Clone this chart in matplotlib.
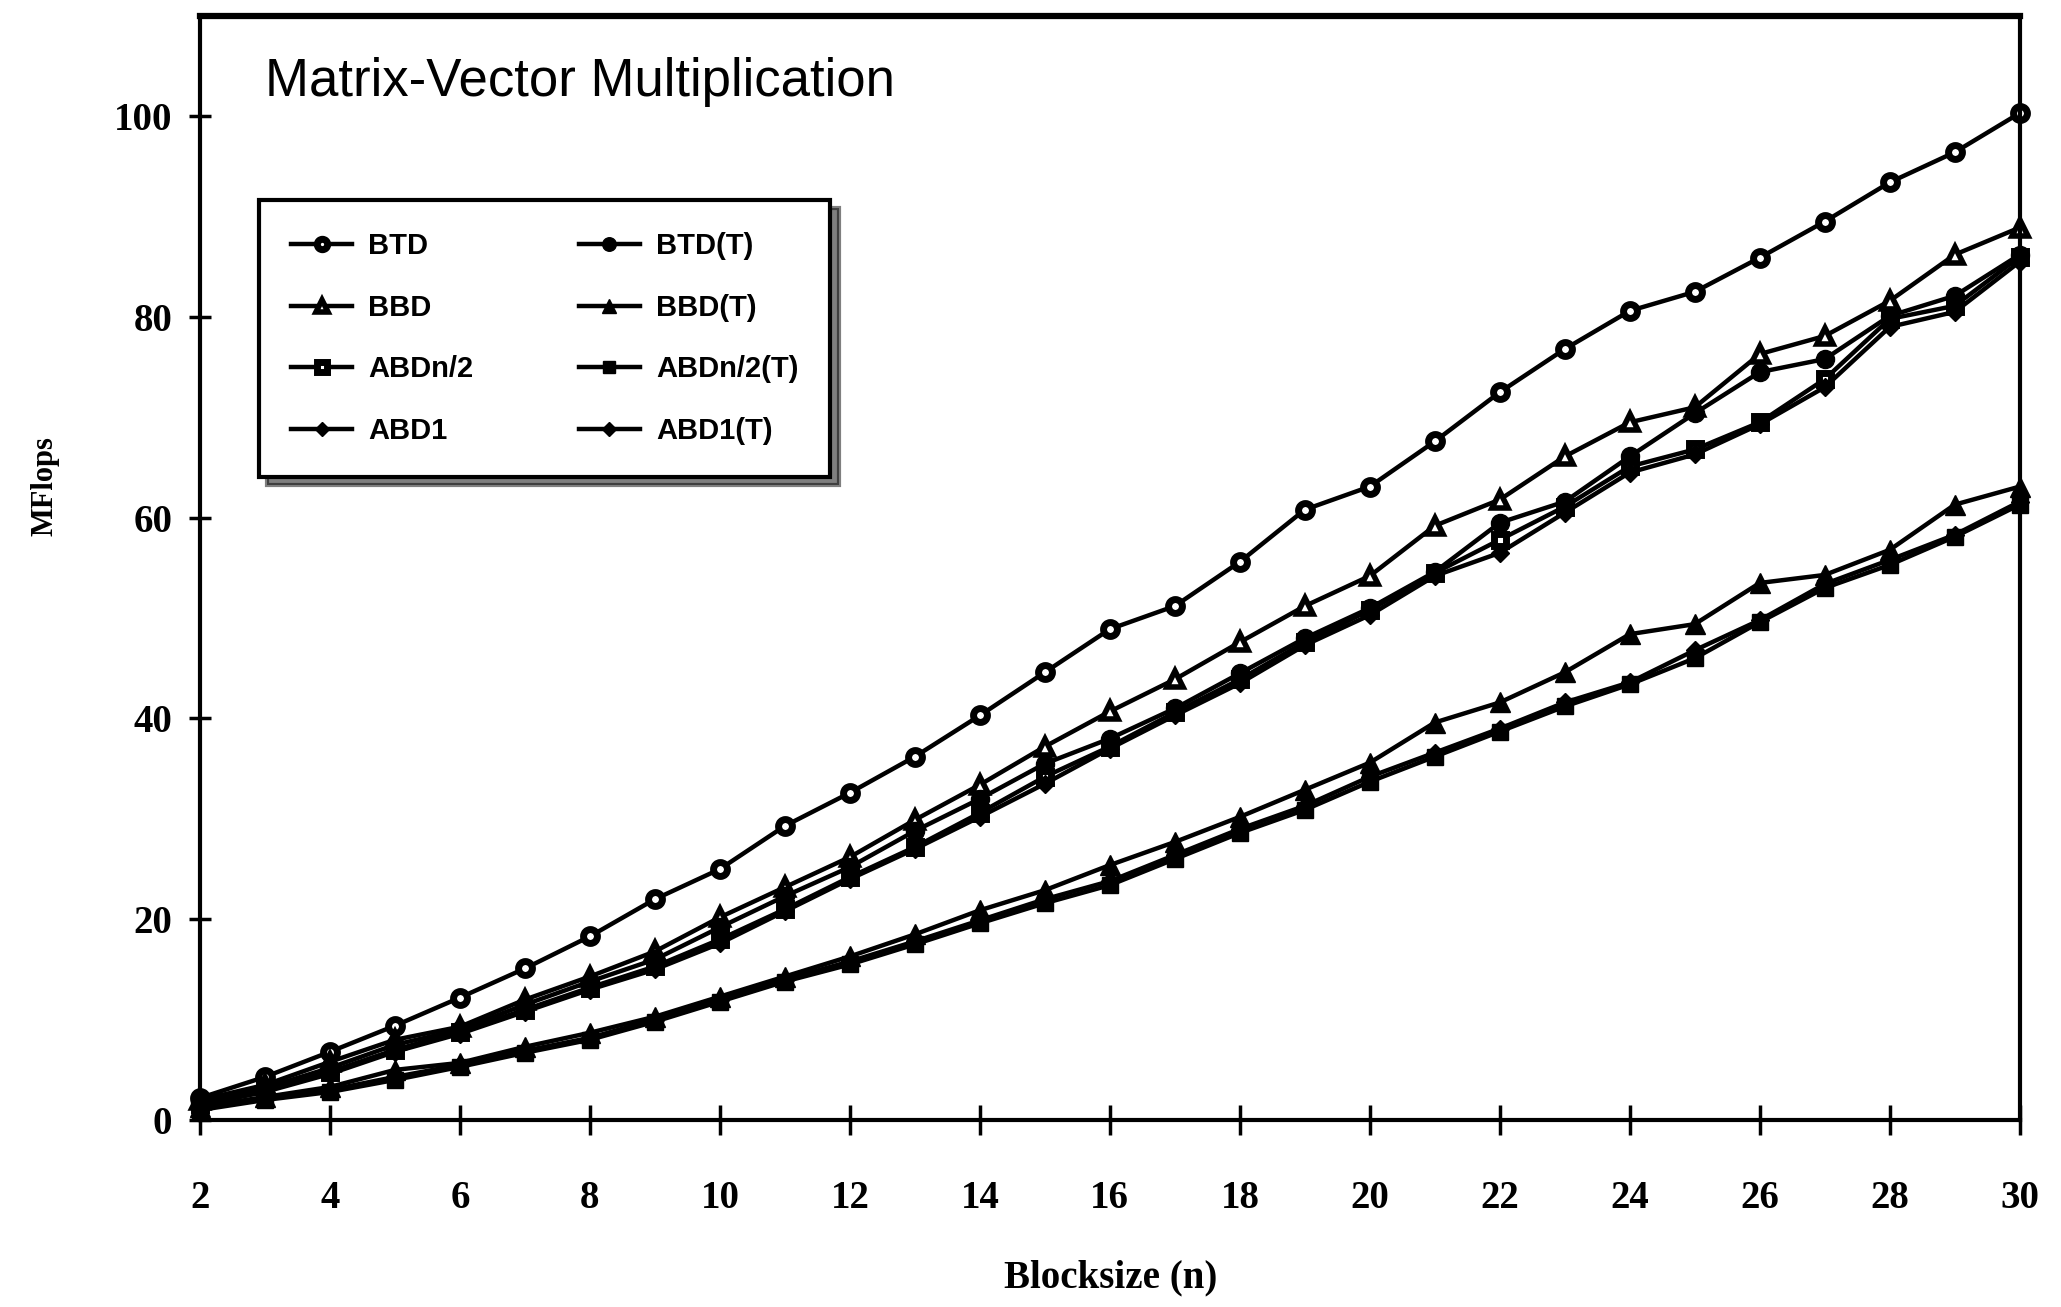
import matplotlib
matplotlib.use("Agg")
import matplotlib.pyplot as plt

blocksize = list(range(2, 31))

btd = [2.2, 4.3, 6.8, 9.4, 12.2, 15.1, 18.3, 22.0, 25.0, 29.3, 32.6, 36.2, 40.3, 44.6, 48.9,
       51.2, 55.6, 60.8, 63.1, 67.6, 72.5, 76.8, 80.6, 82.5, 85.9, 89.5, 93.4, 96.4, 100.3]
btd_t = [1.8, 3.2, 5.2, 7.5, 9.0, 11.5, 13.8, 16.0, 19.2, 22.3, 25.2, 28.8, 32.0, 35.5, 38.0,
         41.0, 44.5, 48.0, 51.0, 54.6, 59.5, 61.6, 66.1, 70.4, 74.5, 75.8, 80.1, 82.1, 86.2]
bbd = [2.0, 3.5, 5.8, 8.0, 9.3, 12.0, 14.3, 16.8, 20.2, 23.2, 26.2, 29.9, 33.4, 37.2, 40.7,
       43.9, 47.6, 51.2, 54.2, 59.2, 61.8, 66.1, 69.5, 71.0, 76.3, 78.1, 81.6, 86.2, 88.9]
bbd_t = [1.3, 2.3, 3.3, 5.0, 5.7, 7.3, 8.7, 10.3, 12.3, 14.3, 16.3, 18.5, 20.9, 22.9, 25.4,
         27.7, 30.2, 32.9, 35.6, 39.6, 41.6, 44.6, 48.4, 49.4, 53.5, 54.3, 56.8, 61.3, 63.1]
abdn2 = [1.6, 3.0, 4.8, 7.0, 8.8, 11.0, 13.2, 15.3, 18.0, 21.0, 24.2, 27.2, 30.6, 34.2, 37.2,
         40.6, 43.9, 47.6, 50.8, 54.5, 57.8, 61.1, 65.1, 66.8, 69.5, 73.8, 79.8, 81.1, 86.0]
abdn2_t = [1.0, 2.0, 2.8, 4.0, 5.3, 6.7, 8.0, 9.8, 11.8, 13.8, 15.5, 17.5, 19.6, 21.6, 23.4,
           26.0, 28.6, 30.9, 33.7, 36.2, 38.7, 41.2, 43.4, 46.0, 49.6, 53.0, 55.3, 58.1, 61.3]
abd1 = [1.5, 2.8, 4.6, 6.8, 8.6, 10.8, 13.0, 15.0, 17.6, 20.8, 24.0, 27.0, 30.2, 33.5, 37.0,
        40.3, 43.5, 47.3, 50.3, 54.2, 56.5, 60.5, 64.5, 66.3, 69.3, 73.0, 79.0, 80.5, 85.5]
abd1_t = [1.1, 2.1, 3.0, 4.3, 5.5, 6.9, 8.2, 10.0, 12.0, 14.0, 15.8, 17.8, 19.9, 22.0, 23.8,
          26.4, 29.0, 31.3, 34.2, 36.6, 39.0, 41.6, 43.6, 46.8, 49.8, 53.4, 55.8, 58.3, 61.6]

xticks = list(range(2, 31, 2))
yticks = [0, 20, 40, 60, 80, 100]

series = [
    ("BTD", btd, dict(marker="o", markersize=10, markerfacecolor="white", markeredgewidth=5)),
    ("BBD", bbd, dict(marker="^", markersize=11, markerfacecolor="white", markeredgewidth=4)),
    ("ABDn/2", abdn2, dict(marker="s", markersize=9, markerfacecolor="white", markeredgewidth=5)),
    ("ABD1", abd1, dict(marker="D", markersize=9, markerfacecolor="black")),
    ("BTD(T)", btd_t, dict(marker="o", markersize=13, markerfacecolor="black")),
    ("BBD(T)", bbd_t, dict(marker="^", markersize=14, markerfacecolor="black")),
    ("ABDn/2(T)", abdn2_t, dict(marker="s", markersize=12, markerfacecolor="black")),
    ("ABD1(T)", abd1_t, dict(marker="D", markersize=9, markerfacecolor="black")),
]

fig = plt.figure(figsize=(20.61, 13.07), dpi=100)
ax = fig.add_axes([0.097, 0.143, 0.883, 0.845])

handles = []
for name, vals, style in series:
    h, = ax.plot(blocksize, vals, color="black", linewidth=3.2, markeredgecolor="black",
                 clip_on=False, label=name, **style)
    handles.append(h)

ax.set_xlim(2, 30)
ax.set_ylim(0, 110)
ax.set_xticks(xticks)
ax.set_yticks(yticks)
ax.set_xticklabels([str(t) for t in xticks], fontfamily="Liberation Serif",
                   fontweight="bold", fontsize=28)
ax.set_yticklabels([str(t) for t in yticks], fontfamily="Liberation Serif",
                   fontweight="bold", fontsize=28)
ax.tick_params(axis="x", direction="inout", length=22, width=2.5, pad=32)
ax.tick_params(axis="y", direction="inout", length=16, width=2.5, pad=12)
for s in ax.spines.values():
    s.set_linewidth(3)
    s.set_color("black")
ax.spines["top"].set_linewidth(4.5)

ax.text(0.036, 0.94, "Matrix-Vector Multiplication", transform=ax.transAxes,
        fontsize=38, family=["Liberation Sans Narrow", "Liberation Sans"],
        ha="left", va="center", color="black")

fig.text(0.022, 0.628, "MFlops", rotation=90, ha="center", va="center",
         fontfamily="Liberation Serif", fontweight="bold", fontsize=22)
fig.text(0.539, 0.022, "Blocksize (n)", ha="center", va="center",
         fontfamily="Liberation Serif", fontweight="bold", fontsize=28)

leg = ax.legend(handles=handles, ncol=2, loc="upper left", bbox_to_anchor=(0.0325, 0.833),
                borderaxespad=0,
                frameon=True, fancybox=False, shadow={"color": "black", "ox": 6, "oy": -6},
                edgecolor="black", framealpha=1,
                prop={"family": ["Liberation Sans Narrow", "Liberation Sans"],
                      "weight": "bold", "size": 21},
                handlelength=2.1, handletextpad=0.55, columnspacing=3.6,
                labelspacing=1.15, borderpad=1.1, markerscale=0.75)
leg.get_frame().set_linewidth(3)

fig.savefig("out.png", dpi=100, facecolor="white")
